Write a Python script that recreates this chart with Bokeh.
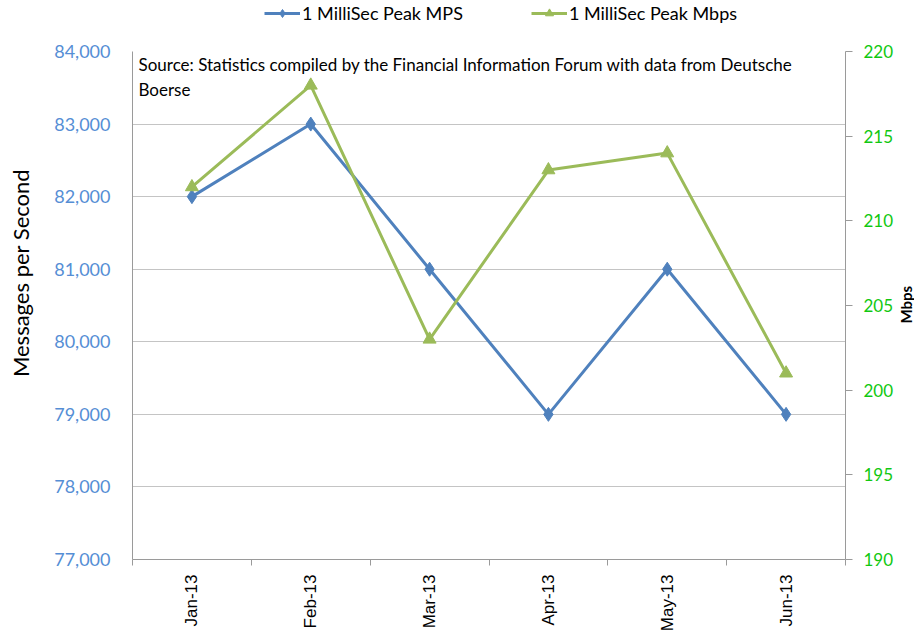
import math

from bokeh.embed import file_html
from bokeh.layouts import column, row
from bokeh.models import (ColumnDataSource, FixedTicker, Label, Legend,
                          LegendItem, LinearAxis, Range1d)
from bokeh.plotting import figure
from bokeh.resources import INLINE

# Monthly peak figures (1 millisecond window)
months = ["Jan-13", "Feb-13", "Mar-13", "Apr-13", "May-13", "Jun-13"]
peak_mps = [82000, 83000, 81000, 79000, 81000, 79000]
peak_mbps = [212, 218, 203, 213, 214, 201]

left_ticks = [77000, 78000, 79000, 80000, 81000, 82000, 83000, 84000]
right_ticks = [190, 195, 200, 205, 210, 215, 220]

series_names = ["1 MilliSec Peak MPS", "1 MilliSec Peak Mbps"]
left_title = "Messages per Second"
right_title = "Mbps"
source_note = ["Source: Statistics compiled by the Financial Information Forum with data from Deutsche",
               "Boerse"]

BLUE = "#4F81BD"
GREEN = "#9BBB59"
AXIS_GREY = "#9A9A9A"
GRID_GREY = "#C4C4C4"
BODY_FONT = "Lato"

W, H = 914, 634
LEGEND_H = 40
LEFT_W, RIGHT_W = 40, 18
MAIN_W, MAIN_H = W - LEFT_W - RIGHT_W, H - LEGEND_H


def blank(width, height):
    """A bare drawing area whose data units are pixels."""
    f = figure(width=width, height=height, output_backend="svg",
               toolbar_location=None, x_axis_location=None, y_axis_location=None,
               x_range=Range1d(0, width), y_range=Range1d(0, height),
               min_border=0)
    f.outline_line_color = None
    f.grid.visible = False
    return f


x_pos = [i + 0.5 for i in range(len(months))]
src = ColumnDataSource(dict(x=x_pos, mps=peak_mps, mbps=peak_mbps))

p = figure(width=MAIN_W, height=MAIN_H, output_backend="svg", toolbar_location=None,
           x_range=Range1d(0, len(months)), y_range=Range1d(77000, 84000),
           min_border_left=92, min_border_right=47,
           min_border_top=11, min_border_bottom=73)
p.outline_line_color = None
p.extra_y_ranges = {"mbps": Range1d(190, 220)}

# category axis: labels in the middle of each month, short marks between months
xa = p.xaxis[0]
xa.ticker = FixedTicker(ticks=x_pos, minor_ticks=list(range(len(months) + 1)))
xa.major_label_overrides = {x: m for x, m in zip(x_pos, months)}
xa.major_label_orientation = math.pi / 2
xa.major_label_text_font = "Liberation Sans"
xa.major_label_text_font_size = "17px"
xa.major_label_text_color = "black"
xa.major_label_standoff = 9
xa.major_tick_line_color = None
xa.minor_tick_out = 6
xa.minor_tick_in = 0
xa.minor_tick_line_color = AXIS_GREY
xa.axis_line_color = AXIS_GREY

ya = p.yaxis[0]
ya.ticker = FixedTicker(ticks=left_ticks)
ya.major_label_overrides = {t: f"{t:,}" for t in left_ticks}
ya.major_label_text_font = BODY_FONT
ya.major_label_text_font_size = "18px"
ya.major_label_text_color = "#558ED5"
ya.major_label_standoff = 16
ya.major_tick_line_color = None
ya.minor_tick_line_color = None
ya.axis_line_color = AXIS_GREY

ra = LinearAxis(y_range_name="mbps", ticker=FixedTicker(ticks=right_ticks))
ra.major_label_text_font = BODY_FONT
ra.major_label_text_font_size = "17px"
ra.major_label_text_color = "#11C811"
ra.major_label_standoff = 11
ra.major_tick_out = 7
ra.major_tick_in = 0
ra.major_tick_line_color = AXIS_GREY
ra.minor_tick_line_color = None
ra.axis_line_color = AXIS_GREY
p.add_layout(ra, "right")

p.xgrid.grid_line_color = None
p.ygrid.grid_line_color = GRID_GREY
p.ygrid.ticker = FixedTicker(ticks=left_ticks)

p.line("x", "mps", source=src, line_color=BLUE, line_width=3)
p.scatter("x", "mps", source=src, marker="diamond", size=14,
          fill_color=BLUE, line_color=BLUE)
p.line("x", "mbps", source=src, line_color=GREEN, line_width=3, y_range_name="mbps")
p.scatter("x", "mbps", source=src, marker="triangle", size=13,
          fill_color=GREEN, line_color=GREEN, y_range_name="mbps")

# source note in the top-left corner of the plot area
for i, line in enumerate(source_note):
    p.add_layout(Label(x=6, y=506 - i * 25, x_units="screen", y_units="screen",
                       text=line, text_font=BODY_FONT, text_font_size="17px",
                       text_color="black", text_baseline="top"))

# legend strip across the top; its key renderers sit outside the visible range
top = blank(W, LEGEND_H)
offstage = ColumnDataSource(dict(x=[-100, -90], y=[-100, -100]))
k1 = top.line("x", "y", source=offstage, line_color=BLUE, line_width=3)
d1 = top.scatter("x", "y", source=offstage, marker="diamond", size=14,
                 fill_color=BLUE, line_color=BLUE)
k2 = top.line("x", "y", source=offstage, line_color=GREEN, line_width=3)
d2 = top.scatter("x", "y", source=offstage, marker="triangle", size=13,
                 fill_color=GREEN, line_color=GREEN)
legend = Legend(items=[LegendItem(label=series_names[0], renderers=[k1, d1], index=0),
                       LegendItem(label=series_names[1], renderers=[k2, d2], index=0)],
                orientation="horizontal", location=(264, 16),
                glyph_width=36, glyph_height=20, label_standoff=2, spacing=68,
                padding=2, margin=0, border_line_color=None,
                background_fill_alpha=0)
legend.label_text_font = BODY_FONT
legend.label_text_font_size = "18px"
legend.label_text_color = "black"
top.add_layout(legend)

# vertical axis titles on either side
left = blank(LEFT_W, MAIN_H)
left.add_layout(Label(x=20, y=335, text=left_title, angle=math.pi / 2,
                      text_align="center", text_baseline="middle",
                      text_font=BODY_FONT, text_font_size="22px",
                      text_color="black"))
right = blank(RIGHT_W, MAIN_H)
right.add_layout(Label(x=9, y=298, text=right_title, angle=math.pi / 2,
                       text_align="center", text_baseline="middle",
                       text_font=BODY_FONT, text_font_size="15px",
                       text_font_style="bold", text_color="black"))

page = column(top, row(left, p, right))
open("out.html", "w").write(file_html(page, INLINE))
